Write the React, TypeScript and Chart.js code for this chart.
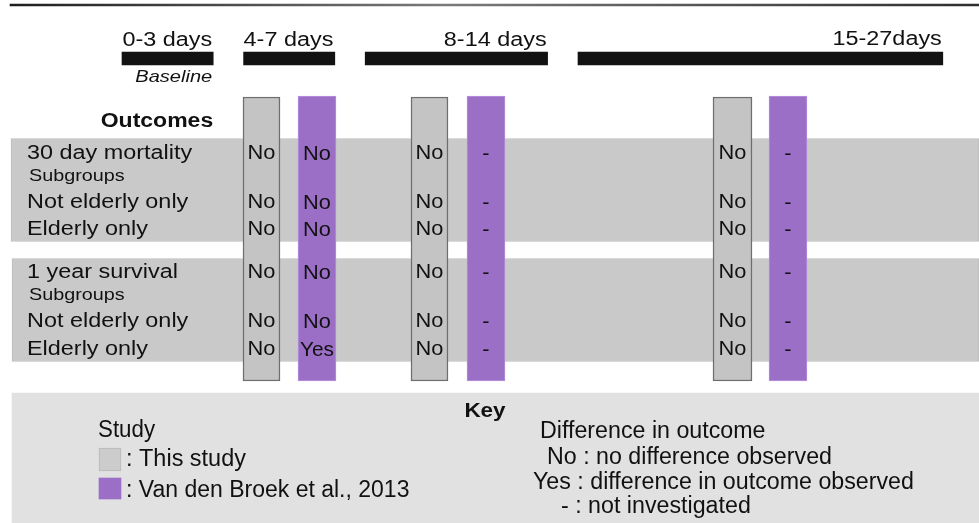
import React, { useEffect, useRef } from 'react';
import { Chart, registerables } from 'chart.js';

Chart.register(...registerables);

// ---------------- DATA ----------------
const periodLabels = ['0-3 days', '4-7 days', '8-14 days', '15-27days'];
const periodStartDay = [0, 4, 8, 15];
const periodEndDay = [3, 7, 14, 27];
const baselineNote = 'Baseline';
const outcomesTitle = 'Outcomes';
const outcomeRows = [
  '30 day mortality',
  'Subgroups',
  'Not elderly only',
  'Elderly only',
  '1 year survival',
  'Subgroups',
  'Not elderly only',
  'Elderly only',
];
// results per period (4-7, 8-14, 15-27 days)
const thisStudy_4_7 = ['No', '', 'No', 'No', 'No', '', 'No', 'No'];
const vanDenBroek_4_7 = ['No', '', 'No', 'No', 'No', '', 'No', 'Yes'];
const thisStudy_8_14 = ['No', '', 'No', 'No', 'No', '', 'No', 'No'];
const vanDenBroek_8_14 = ['-', '', '-', '-', '-', '', '-', '-'];
const thisStudy_15_27 = ['No', '', 'No', 'No', 'No', '', 'No', 'No'];
const vanDenBroek_15_27 = ['-', '', '-', '-', '-', '', '-', '-'];
const keyTitle = 'Key';
const studyTitle = 'Study';
const studyNames = ['This study', 'Van den Broek et al., 2013'];
const diffTitle = 'Difference in outcome';
const diffCodes = ['No', 'Yes', '-'];
const diffMeanings = ['no difference observed', 'difference in outcome observed', 'not investigated'];

// ---------------- LAYOUT (positions, sizes, styles) ----------------
const W = 979;
const H = 523;
const DAY_MIN = -122 / 30.4;
const DAY_MAX = (W - 122) / 30.4;
const FONT = "'Liberation Sans', Arial, Helvetica, sans-serif";
const TEXT = '#111111';
const PURPLE = '#9b6fc6';
const GRAY_COL = '#c4c4c4';
const BAND = '#c9c9c9';
const KEY_BG = '#e1e1e1';

const periodLabelAlign = ['right', 'left', 'right', 'right'];
const periodLabelBaseline = [46, 46, 46, 45];
const periodBarY = 58.5;
const periodBarH = 13;

const rowBaseline = [159, 181, 208, 235, 278, 300, 327, 355];
const rowIsSub = [false, true, false, false, false, true, false, false];

const bandsX = [[11, W], [12, W]];
const bandsY = [190, 310];
const bandH = 103;

const grayColsX = [[243, 280], [411, 448], [713, 752]];
const purpleColsX = [[298, 336], [467, 505], [769, 807]];
const grayColY = [97, 381];
const purpleColY = [96, 381];

const keyBoxX = [12, W];
const keyBoxY = [393, H];
const swatchX = [99, 121];
const swatchY = [[448, 471], [478, 499]];

function drawText(
  ctx: CanvasRenderingContext2D,
  s: string,
  x: number,
  y: number,
  font: string,
  align: 'left' | 'right' | 'center',
  sx: number
) {
  ctx.save();
  ctx.font = font;
  ctx.fillStyle = TEXT;
  ctx.textAlign = 'left';
  ctx.textBaseline = 'alphabetic';
  const w = ctx.measureText(s).width * sx;
  const x0 = align === 'left' ? x : align === 'right' ? x - w : x - w / 2;
  ctx.translate(x0, y);
  ctx.scale(sx, 1);
  ctx.fillText(s, 0, 0);
  ctx.restore();
}

const textPlugin = {
  id: 'diagramText',
  afterDatasetsDraw(chart: any) {
    const ctx: CanvasRenderingContext2D = chart.ctx;
    const X = chart.scales.x;
    const XL = chart.scales.xl;
    const Y = chart.scales.y;
    const main = `20px ${FONT}`;

    // period labels
    periodLabels.forEach((lab, i) => {
      const align = periodLabelAlign[i] as any;
      const d = align === 'left' ? periodStartDay[i] : periodEndDay[i];
      drawText(ctx, lab, X.getPixelForValue(d) - (align === 'right' ? 1 : 0), Y.getPixelForValue(periodLabelBaseline[i]), main, align, 1.17);
    });
    drawText(ctx, baselineNote, X.getPixelForValue(periodEndDay[0]) - 1, Y.getPixelForValue(82), `italic 17px ${FONT}`, 'right', 1.18);
    drawText(ctx, outcomesTitle, X.getPixelForValue(periodEndDay[0]), Y.getPixelForValue(127), `bold 20px ${FONT}`, 'right', 1.15);

    // row labels
    outcomeRows.forEach((lab, i) => {
      const sub = rowIsSub[i];
      drawText(
        ctx,
        lab,
        XL.getPixelForValue(sub ? 29 : 27),
        Y.getPixelForValue(rowBaseline[i]),
        sub ? `16.5px ${FONT}` : main,
        'left',
        sub ? 1.2 : 1.17
      );
    });

    // cells
    const grayVals = [thisStudy_4_7, thisStudy_8_14, thisStudy_15_27];
    const purpleVals = [vanDenBroek_4_7, vanDenBroek_8_14, vanDenBroek_15_27];
    grayVals.forEach((vals, c) => {
      const cx = XL.getPixelForValue((grayColsX[c][0] + grayColsX[c][1]) / 2);
      vals.forEach((v, r) => {
        if (v) drawText(ctx, v, cx, Y.getPixelForValue(rowBaseline[r]), main, 'center', 1.09);
      });
    });
    purpleVals.forEach((vals, c) => {
      const cx = XL.getPixelForValue((purpleColsX[c][0] + purpleColsX[c][1]) / 2);
      vals.forEach((v, r) => {
        if (v) drawText(ctx, v, cx, Y.getPixelForValue(rowBaseline[r] + 1), main, 'center', v === 'Yes' ? 1.04 : 1.09);
      });
    });

    // key
    const keyFont = `23px ${FONT}`;
    drawText(ctx, keyTitle, XL.getPixelForValue(485), Y.getPixelForValue(417), `bold 21px ${FONT}`, 'center', 1.07);
    drawText(ctx, studyTitle, XL.getPixelForValue(98), Y.getPixelForValue(437), keyFont, 'left', 0.97);
    drawText(ctx, ': ' + studyNames[0], XL.getPixelForValue(126), Y.getPixelForValue(466), keyFont, 'left', 1.02);
    drawText(ctx, ': ' + studyNames[1], XL.getPixelForValue(126), Y.getPixelForValue(497), keyFont, 'left', 1.0);
    drawText(ctx, diffTitle, XL.getPixelForValue(540), Y.getPixelForValue(438), keyFont, 'left', 1.01);
    const codeX = [547, 533, 561];
    const codeY = [464, 489, 513];
    diffCodes.forEach((c, i) => {
      drawText(ctx, `${c} : ${diffMeanings[i]}`, XL.getPixelForValue(codeX[i]), Y.getPixelForValue(codeY[i]), keyFont, 'left', 1.01);
    });
  },
};

function rectDataset(
  label: string,
  xAxisID: string,
  rects: { x: [number, number]; y: number }[],
  thickness: number,
  bg: any,
  border: string,
  borderWidth: number,
  order: number
) {
  return {
    label,
    xAxisID,
    yAxisID: 'y',
    data: rects,
    barThickness: thickness,
    backgroundColor: bg,
    borderColor: border,
    borderWidth,
    borderSkipped: false,
    grouped: false,
    order,
  };
}

export default function App() {
  const ref = useRef<HTMLCanvasElement | null>(null);

  useEffect(() => {
    if (!ref.current) return;
    const gradient = (c: any) => {
      const chart = c.chart;
      const xl = chart.scales && chart.scales.xl;
      if (!xl) return '#444444';
      const a = xl.getPixelForValue(10);
      const b = xl.getPixelForValue(W);
      if (!isFinite(a) || !isFinite(b) || a === b) return '#444444';
      const g = chart.ctx.createLinearGradient(a, 0, b, 0);
      g.addColorStop(0, '#1e1e1e');
      g.addColorStop(0.45, '#7a7a7a');
      g.addColorStop(1, '#2e2e2e');
      return g;
    };

    const datasets = [
      rectDataset('Top rule', 'xl', [{ x: [10, W], y: 5 }], 2, gradient, 'rgba(0,0,0,0)', 0, 10),
      rectDataset(
        'Periods',
        'x',
        periodStartDay.map((s, i) => ({ x: [s, periodEndDay[i]] as [number, number], y: periodBarY })),
        periodBarH,
        '#121212',
        'rgba(0,0,0,0)',
        0,
        5
      ),
      rectDataset(
        'Outcome bands',
        'xl',
        bandsX.map((b, i) => ({ x: b as [number, number], y: bandsY[i] })),
        bandH,
        BAND,
        '#bdbdbd',
        1,
        10
      ),
      rectDataset('Key box', 'xl', [{ x: keyBoxX as [number, number], y: (keyBoxY[0] + keyBoxY[1]) / 2 }], keyBoxY[1] - keyBoxY[0], KEY_BG, 'rgba(0,0,0,0)', 0, 10),
      rectDataset(
        'This study',
        'xl',
        grayColsX.map((c) => ({ x: c as [number, number], y: (grayColY[0] + grayColY[1]) / 2 })),
        grayColY[1] - grayColY[0],
        GRAY_COL,
        '#6e6e6e',
        1.5,
        5
      ),
      rectDataset(
        'Van den Broek et al., 2013',
        'xl',
        purpleColsX.map((c) => ({ x: c as [number, number], y: (purpleColY[0] + purpleColY[1]) / 2 })),
        purpleColY[1] - purpleColY[0],
        PURPLE,
        '#b894e0',
        1,
        5
      ),
      rectDataset(
        'Key: this study',
        'xl',
        [{ x: swatchX as [number, number], y: (swatchY[0][0] + swatchY[0][1]) / 2 }],
        swatchY[0][1] - swatchY[0][0],
        '#cccccc',
        '#b8b8b8',
        1,
        4
      ),
      rectDataset(
        'Key: Van den Broek',
        'xl',
        [{ x: swatchX as [number, number], y: (swatchY[1][0] + swatchY[1][1]) / 2 }],
        swatchY[1][1] - swatchY[1][0],
        PURPLE,
        'rgba(0,0,0,0)',
        0,
        4
      ),
    ];

    const chart = new Chart(ref.current, {
      type: 'bar',
      data: { datasets: datasets as any },
      options: {
        indexAxis: 'y',
        animation: false,
        responsive: false,
        events: [],
        layout: { padding: 0 },
        plugins: {
          legend: { display: false },
          tooltip: { enabled: false },
          title: { display: false },
        },
        scales: {
          x: { type: 'linear', axis: 'x', min: DAY_MIN, max: DAY_MAX, display: false, offset: false } as any,
          xl: { type: 'linear', axis: 'x', min: 0, max: W, display: false, offset: false } as any,
          y: { type: 'linear', min: 0, max: H, reverse: true, display: false, offset: false } as any,
        },
      } as any,
      plugins: [textPlugin],
    });
    return () => chart.destroy();
  }, []);

  return (
    <div style={{ position: 'absolute', left: 0, top: 0, width: W, height: H, background: '#ffffff' }}>
      <canvas ref={ref} width={W} height={H} style={{ display: 'block', width: W, height: H }} />
    </div>
  );
}
